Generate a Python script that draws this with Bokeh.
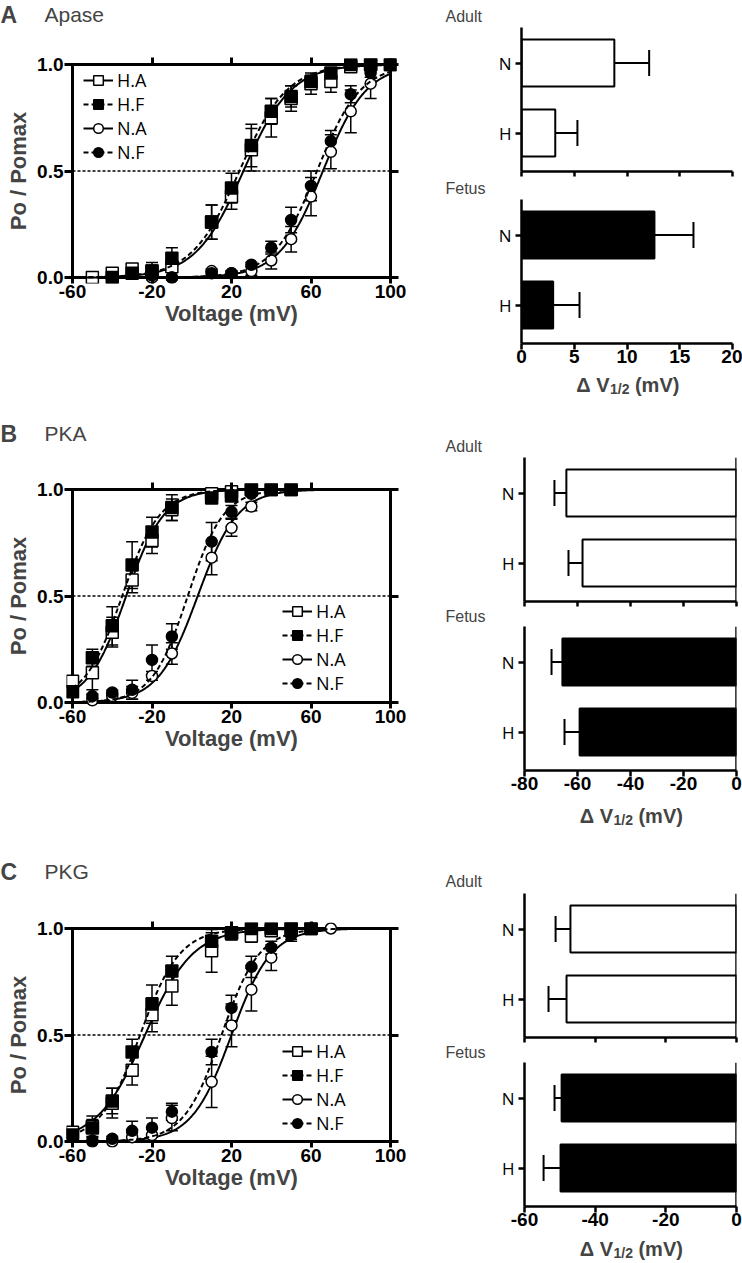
import math
import numpy as np
from bokeh.plotting import figure
from bokeh.models import (ColumnDataSource, Whisker, TeeHead, Label, Legend, LegendItem,
                          LinearAxis, FixedTicker, Range1d, Span, Plot)
from bokeh.layouts import row, column
from bokeh.embed import file_html
from bokeh.resources import INLINE

nan = float("nan")

SERIES = ["H.A", "H.F", "N.A", "N.F"]

# ---------------- Panel A: Apase ----------------
V_A = [-50, -40, -30, -20, -10, 10, 20, 30, 40, 50, 60, 70, 80, 90, 100]
A_HA = [0.00, 0.02, 0.04, 0.03, 0.05, 0.26, 0.38, 0.60, 0.75, 0.84, 0.91, 0.92, 0.99, 1.00, 1.00]
A_HA_ERR = [0.00, 0.01, 0.01, 0.04, 0.06, 0.08, 0.06, 0.10, 0.09, 0.06, 0.05, 0.05, 0.01, 0.00, 0.00]
A_HF = [nan, 0.00, 0.02, 0.03, 0.09, 0.26, 0.42, 0.62, 0.78, 0.85, 0.92, 0.96, 1.00, 1.00, 1.00]
A_HF_ERR = [nan, 0.01, 0.01, 0.02, 0.05, 0.08, 0.07, 0.10, 0.06, 0.05, 0.03, 0.02, 0.00, 0.00, 0.00]
A_NA = [nan, nan, nan, 0.00, 0.00, 0.03, 0.02, 0.03, 0.08, 0.18, 0.38, 0.59, 0.78, 0.91, 1.00]
A_NA_ERR = [nan, nan, nan, 0.00, 0.00, 0.01, 0.01, 0.02, 0.04, 0.06, 0.09, 0.08, 0.10, 0.07, 0.00]
A_NF = [nan, nan, nan, 0.01, 0.00, 0.02, 0.02, 0.06, 0.14, 0.27, 0.43, 0.64, 0.86, 0.96, 1.00]
A_NF_ERR = [nan, nan, nan, 0.01, 0.00, 0.01, 0.01, 0.01, 0.03, 0.06, 0.07, 0.05, 0.04, 0.02, 0.00]
A_VHALF = [26, 24, 66, 63]
A_SLOPE = [12, 12, 11, 11]

# ---------------- Panel B: PKA ----------------
V_B = [-60, -50, -40, -30, -20, -10, 10, 20, 30, 40, 50]
B_HA = [0.10, 0.14, 0.33, 0.575, 0.76, 0.905, 0.98, 0.99, 1.00, 1.00, 1.00]
B_HA_ERR = [0.02, 0.08, 0.07, 0.06, 0.06, 0.05, 0.01, 0.01, 0.00, 0.00, 0.00]
B_HF = [0.05, 0.21, 0.36, 0.645, 0.80, 0.915, 0.96, 0.97, 1.00, 1.00, 1.00]
B_HF_ERR = [0.02, 0.04, 0.09, 0.11, 0.07, 0.06, 0.01, 0.02, 0.00, 0.00, 0.00]
B_NA = [nan, 0.01, 0.03, 0.045, 0.125, 0.23, 0.68, 0.82, 0.92, nan, nan]
B_NA_ERR = [nan, 0.01, 0.01, 0.03, 0.02, 0.05, 0.08, 0.04, 0.02, nan, nan]
B_NF = [nan, 0.03, 0.047, 0.06, 0.20, 0.31, 0.755, 0.895, 0.98, nan, nan]
B_NF_ERR = [nan, 0.01, 0.01, 0.045, 0.07, 0.06, 0.09, 0.03, 0.01, nan, nan]
B_VHALF = [-33, -35, 3, -2]
B_SLOPE = [9.5, 9.5, 10, 9]

# ---------------- Panel C: PKG ----------------
V_C = [-60, -50, -40, -30, -20, -10, 10, 20, 30, 40, 50, 60, 70]
C_HA = [0.044, 0.07, 0.18, 0.335, 0.595, 0.73, 0.895, 0.976, 0.965, 0.99, 1.00, 1.00, nan]
C_HA_ERR = [0.01, 0.05, 0.07, 0.07, 0.08, 0.09, 0.10, 0.03, 0.03, 0.01, 0.00, 0.00, nan]
C_HF = [0.03, 0.063, 0.19, 0.42, 0.645, 0.80, 0.94, 0.98, 1.00, 1.00, 1.00, 1.00, nan]
C_HF_ERR = [0.01, 0.04, 0.06, 0.06, 0.09, 0.07, 0.04, 0.02, 0.00, 0.00, 0.00, 0.00, nan]
C_NA = [nan, 0.00, 0.00, 0.02, 0.03, 0.11, 0.28, 0.545, 0.713, 0.863, 0.97, 1.00, 1.00]
C_NA_ERR = [nan, 0.00, 0.00, 0.02, 0.03, 0.06, 0.12, 0.10, 0.10, 0.06, 0.03, 0.00, 0.00]
C_NF = [nan, 0.005, 0.013, 0.05, 0.065, 0.14, 0.42, 0.627, 0.82, 0.91, 0.97, 1.00, nan]
C_NF_ERR = [nan, 0.00, 0.01, 0.045, 0.045, 0.04, 0.06, 0.06, 0.05, 0.03, 0.02, 0.00, nan]
C_VHALF = [-23.5, -26, 20, 15]
C_SLOPE = [12, 10, 10, 9.5]

# ---------------- Delta V1/2 bars ----------------
BAR_ROWS = ["H", "N"]
A_ADULT = [3.2, 8.8]
A_ADULT_ERR = [2.1, 3.3]
A_FETUS = [3.0, 12.6]
A_FETUS_ERR = [2.5, 3.7]
B_ADULT = [-58.1, -64.2]
B_ADULT_ERR = [5.3, 4.5]
B_FETUS = [-59.2, -65.7]
B_FETUS_ERR = [5.7, 4.1]
C_ADULT = [-48.1, -47.0]
C_ADULT_ERR = [5.1, 4.2]
C_FETUS = [-49.8, -49.5]
C_FETUS_ERR = [4.8, 2.0]

X_TICKS = [-60, -20, 20, 60, 100]
A_BAR_TICKS = [0, 5, 10, 15, 20]
B_BAR_TICKS = [-80, -60, -40, -20, 0]
C_BAR_TICKS = [-60, -40, -20, 0]

# ---------------- layout constants ----------------
XMIN, XMAX = -60, 100
YMIN, YMAX = 0.0, 1.0
LEFT_W = 430
FRAME_L = 66
FRAME_W = 330
PXV = 318 / 160.0
PXP = 213.0
PAD = 6

BAR_W = 312
BAR_FH = 144
BAR_PXU = 70.0
BAR_Y0 = 0.45

BOLD = "Liberation Sans"
SANS = "Open Sans"
PLAIN = "Liberation Sans"

FIG_KW = dict(output_backend="svg", toolbar_location=None, title=None)
if "frame_align" in Plot.properties():
    FIG_KW["frame_align"] = False

STYLE = {
    "H.A": ("square", "white", "solid", 12),
    "H.F": ("square", "black", "5 3", 12),
    "N.A": ("circle", "white", "solid", 11),
    "N.F": ("circle", "black", "5 3", 11),
}


def tick_text(t):
    return str(t)


def style_axis(ax, ticks, tick_in, tick_out, show_labels=True, size="19px", standoff=1, width=3):
    ax.ticker = FixedTicker(ticks=ticks)
    ax.axis_line_color = None
    ax.major_tick_in = tick_in
    ax.major_tick_out = tick_out
    ax.major_tick_line_width = width
    ax.major_tick_line_color = "black"
    ax.minor_tick_line_color = None
    ax.major_label_text_font = BOLD
    ax.major_label_text_font_style = "bold"
    if show_labels:
        ax.major_label_text_color = "black"
        ax.major_label_text_font_size = size
        ax.major_label_standoff = standoff
    else:
        ax.major_label_text_color = None
        ax.major_label_text_font_size = "1px"
        ax.major_label_standoff = 0


def strip(width, height, texts):
    """A frame-only figure used to hold free-standing texts (pixel coordinates, y down)."""
    s = figure(width=width, height=height, x_range=Range1d(0, width), y_range=Range1d(height, 0),
               x_axis_location=None, y_axis_location=None,
               min_border_left=0, min_border_right=0, min_border_top=0, min_border_bottom=0,
               **FIG_KW)
    s.outline_line_color = None
    s.grid.visible = False
    for t in texts:
        s.add_layout(Label(**t))
    return s


def title_strip(letter, name, height, cy):
    return strip(LEFT_W, height, [
        dict(x=0, y=cy, text=letter, text_font=BOLD, text_font_style="bold",
             text_font_size="23px", text_baseline="middle", text_align="left"),
        dict(x=44, y=cy, text=name, text_font=PLAIN, text_font_size="21px",
             text_baseline="middle", text_align="left"),
    ])


def word_strip(word, height, cy):
    return strip(BAR_W, height, [
        dict(x=15, y=cy, text=word, text_font=PLAIN, text_font_size="16px",
             text_baseline="middle", text_align="left")])


def dv_strip(height, cy, frame_left, frame_w):
    center = frame_left + frame_w / 2.0
    sub_x = center - 17
    sub_w = 1.39 * 14
    texts = [
        dict(x=sub_x - 0.5, y=cy, text="Δ V", text_font=BOLD, text_font_style="bold",
             text_font_size="20px", text_baseline="middle", text_align="right"),
        dict(x=sub_x, y=cy + 4, text="1/2", text_font=BOLD, text_font_style="bold",
             text_font_size="14px", text_baseline="middle", text_align="left"),
        dict(x=sub_x + sub_w + 5.5, y=cy, text="(mV)", text_font=BOLD, text_font_style="bold",
             text_font_size="20px", text_baseline="middle", text_align="left"),
    ]
    return strip(BAR_W, height, texts)


def left_panel(V, ys, errs, vhalf, slope, fig_h, frame_top, legend_xy):
    frame_h = int(PXP) + 2 * PAD
    frame_bottom = frame_top + frame_h
    padx, pady = PAD / PXV, PAD / PXP
    p = figure(width=LEFT_W, height=fig_h,
               x_range=Range1d(XMIN - padx, XMAX + padx),
               y_range=Range1d(YMIN - pady, YMAX + pady),
               min_border_left=FRAME_L, min_border_right=LEFT_W - FRAME_L - FRAME_W,
               min_border_top=frame_top, min_border_bottom=fig_h - frame_bottom,
               **FIG_KW)
    p.outline_line_color = None
    p.grid.visible = False

    xb = p.below[0]
    style_axis(xb, X_TICKS, PAD, 0, True, "19px", 1)
    xb.major_label_overrides = {t: tick_text(t) for t in X_TICKS}
    xb.axis_label = "Voltage (mV)"
    xb.axis_label_text_font = BOLD
    xb.axis_label_text_font_style = "bold"
    xb.axis_label_text_font_size = "22px"
    xb.axis_label_standoff = 0
    yl = p.left[0]
    style_axis(yl, [0, 0.5, 1], PAD, 2, True, "19px", 1)
    yl.major_label_overrides = {0: "0.0", 0.5: "0.5", 1: "1.0"}
    yl.axis_label = "Po / Pomax"
    yl.axis_label_text_font = BOLD
    yl.axis_label_text_font_style = "bold"
    yl.axis_label_text_font_size = "22px"
    yl.axis_label_standoff = 3
    top = LinearAxis()
    style_axis(top, [-20, 20, 60], PAD, 1, False)
    p.add_layout(top, "above")
    right = LinearAxis()
    style_axis(right, [0, 0.5, 1], PAD, 2, False)
    p.add_layout(right, "right")

    p.line([XMIN, XMAX, XMAX, XMIN, XMIN], [YMIN, YMIN, YMAX, YMAX, YMIN],
           line_width=3, color="black", line_join="miter")
    p.line([XMIN, XMAX], [0.5, 0.5], line_width=1.5, color="black", line_dash="3 2")

    vgrid = np.linspace(XMIN, XMAX, 401)
    items = []
    for s, y, e, vh, k in zip(SERIES, ys, errs, vhalf, slope):
        marker, fill, dash, msize = STYLE[s]
        xs, yy, lo, hi, ex = [], [], [], [], []
        for v, a, b in zip(V, y, e):
            if math.isnan(a):
                continue
            xs.append(v)
            yy.append(a)
            if not math.isnan(b) and b > 0:
                ex.append(v)
                lo.append(a - b)
                hi.append(a + b)
        wsrc = ColumnDataSource(dict(x=ex, lo=lo, hi=hi))
        p.add_layout(Whisker(source=wsrc, base="x", lower="lo", upper="hi", dimension="height",
                             line_width=1.5, line_color="black",
                             upper_head=TeeHead(size=12, line_width=1.5, line_color="black"),
                             lower_head=TeeHead(size=12, line_width=1.5, line_color="black")))
        fit = 1.0 / (1.0 + np.exp((vh - vgrid) / k))
        lr = p.line(vgrid, fit, line_width=2, color="black", line_dash=dash)
        sr = p.scatter(xs, yy, marker=marker, size=msize, fill_color=fill, line_color="black",
                       line_width=1.5)
        items.append(LegendItem(label=s, renderers=[lr, sr]))

    leg = Legend(items=items, location=legend_xy, margin=0, padding=0, spacing=0,
                 glyph_width=30, glyph_height=24, label_height=24, label_width=20,
                 label_standoff=4, label_text_font=SANS, label_text_font_size="18px",
                 label_text_color="black",
                 background_fill_alpha=0, border_line_color=None)
    p.add_layout(leg)
    return p


def bar_panel(vals, errs, xmin, xmax, ticks, fill, fig_h, frame_top, frame_left, frame_w,
              show_ticklabels):
    frame_bottom = frame_top + BAR_FH
    y0 = BAR_Y0
    y1 = BAR_Y0 + BAR_FH / BAR_PXU
    p = figure(width=BAR_W, height=fig_h, x_range=Range1d(xmin, xmax), y_range=Range1d(y0, y1),
               min_border_left=frame_left, min_border_right=BAR_W - frame_left - frame_w,
               min_border_top=frame_top, min_border_bottom=fig_h - frame_bottom,
               **FIG_KW)
    p.outline_line_color = None
    p.grid.visible = False

    pos = [i + 1 for i in range(len(BAR_ROWS))]
    neg = xmax <= 0
    if neg:
        lefts, rights = list(vals), [0] * len(vals)
        lo = [v - e for v, e in zip(vals, errs)]
        hi = list(vals)
    else:
        lefts, rights = [0] * len(vals), list(vals)
        lo = list(vals)
        hi = [v + e for v, e in zip(vals, errs)]
    head = TeeHead(size=26, line_width=2, line_color="black")
    p.add_layout(Whisker(source=ColumnDataSource(dict(y=pos, lo=lo, hi=hi)), base="y",
                         lower="lo", upper="hi", dimension="width", line_width=2,
                         line_color="black",
                         lower_head=head if neg else None,
                         upper_head=None if neg else head))
    p.hbar(y=pos, left=lefts, right=rights, height=0.67, fill_color=fill,
           line_color="black", line_width=2)
    if neg:
        p.add_layout(Span(location=0, dimension="height", line_color="black", line_width=2.5))

    yl = p.left[0]
    yl.ticker = FixedTicker(ticks=pos)
    yl.major_label_overrides = {i + 1: c for i, c in enumerate(BAR_ROWS)}
    yl.axis_line_width = 2.5
    yl.axis_line_color = "black"
    yl.major_tick_in = 0
    yl.major_tick_out = 6
    yl.major_tick_line_width = 2.5
    yl.minor_tick_line_color = None
    yl.major_label_text_font = SANS
    yl.major_label_text_font_size = "17px"
    yl.major_label_text_color = "black"
    yl.major_label_standoff = 4

    xb = p.below[0]
    xb.ticker = FixedTicker(ticks=ticks)
    xb.axis_line_width = 2.5
    xb.axis_line_color = "black"
    xb.major_tick_in = 0
    xb.major_tick_out = 6 if show_ticklabels else 5
    xb.major_tick_line_width = 2.5
    xb.minor_tick_line_color = None
    xb.major_label_text_font = BOLD
    xb.major_label_text_font_style = "bold"
    if show_ticklabels:
        xb.major_label_overrides = {t: tick_text(t) for t in ticks}
        xb.major_label_text_color = "black"
        xb.major_label_text_font_size = "19px"
        xb.major_label_standoff = 0
    else:
        xb.major_label_text_color = None
        xb.major_label_text_font_size = "1px"
        xb.major_label_standoff = 0
    return p


def right_column(adult, adult_err, fetus, fetus_err, xmin, xmax, ticks, frame_left, frame_w,
                 hs_adult, cy_adult, h_adult, ft_adult,
                 hs_fetus, cy_fetus, h_fetus, ft_fetus, hs_dv, cy_dv):
    return column(
        word_strip("Adult", hs_adult, cy_adult),
        bar_panel(adult, adult_err, xmin, xmax, ticks, "white", h_adult, ft_adult,
                  frame_left, frame_w, False),
        word_strip("Fetus", hs_fetus, cy_fetus),
        bar_panel(fetus, fetus_err, xmin, xmax, ticks, "black", h_fetus, ft_fetus,
                  frame_left, frame_w, True),
        dv_strip(hs_dv, cy_dv, frame_left, frame_w),
    )


# ---------------- Row A ----------------
leftA = column(title_strip("A", "Apase", 30, 14),
               left_panel(V_A, [A_HA, A_HF, A_NA, A_NF],
                          [A_HA_ERR, A_HF_ERR, A_NA_ERR, A_NF_ERR], A_VHALF, A_SLOPE,
                          fig_h=370, frame_top=28, legend_xy=(17, 119)))
rightA = right_column(A_ADULT, A_ADULT_ERR, A_FETUS, A_FETUS_ERR, 0, 20, A_BAR_TICKS, 91, 211,
                      26, 16, 152, 1, 20, 10, 174, 1, 28, 12)

# ---------------- Row B ----------------
leftB = column(title_strip("B", "PKA", 52, 33),
               left_panel(V_B, [B_HA, B_HF, B_NA, B_NF],
                          [B_HA_ERR, B_HF_ERR, B_NA_ERR, B_NF_ERR], B_VHALF, B_SLOPE,
                          fig_h=378, frame_top=31, legend_xy=(216, 13)))
rightB = right_column(B_ADULT, B_ADULT_ERR, B_FETUS, B_FETUS_ERR, -80, 0, B_BAR_TICKS, 94, 212,
                      56, 46, 151, 1, 18, 9, 175, 1, 30, 15)

# ---------------- Row C ----------------
leftC = column(title_strip("C", "PKG", 60, 41),
               left_panel(V_C, [C_HA, C_HF, C_NA, C_NF],
                          [C_HA_ERR, C_HF_ERR, C_NA_ERR, C_NF_ERR], C_VHALF, C_SLOPE,
                          fig_h=370, frame_top=32, legend_xy=(216, 12)))
rightC = right_column(C_ADULT, C_ADULT_ERR, C_FETUS, C_FETUS_ERR, -60, 0, C_BAR_TICKS, 94, 212,
                      62, 51, 151, 1, 18, 9, 174, 1, 25, 13)

layout = column(row(leftA, rightA), row(leftB, rightB), row(leftC, rightC))

open("out.html", "w").write(file_html(layout, INLINE))
